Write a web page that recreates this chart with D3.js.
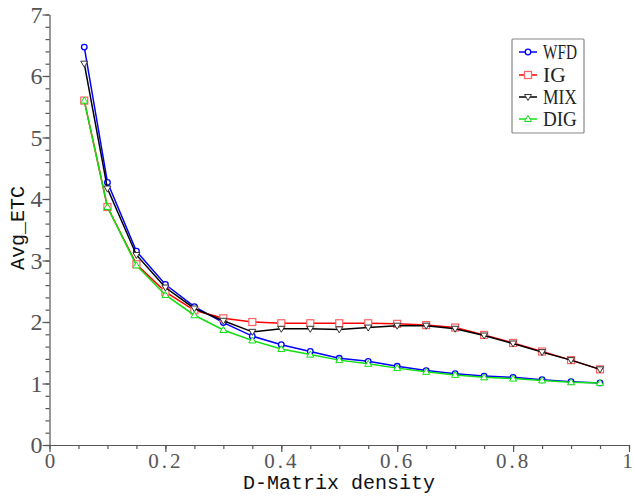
<!DOCTYPE html>
<html>
<head>
<meta charset="utf-8">
<script src="https://cdn.jsdelivr.net/npm/d3@7"></script>
<style>
  body { margin: 0; background: #fff; }
  svg { display: block; }
</style>
</head>
<body>
<svg id="chart" width="634" height="496"></svg>
<script>
// densities on the x axis
const density = [0.06, 0.1, 0.15, 0.2, 0.25, 0.3, 0.35, 0.4, 0.45, 0.5,
                 0.55, 0.6, 0.65, 0.7, 0.75, 0.8, 0.85, 0.9, 0.95];

const wfd = [6.47, 4.27, 3.15, 2.61, 2.25, 1.99, 1.77, 1.63, 1.52, 1.41,
             1.36, 1.28, 1.21, 1.16, 1.12, 1.10, 1.06, 1.03, 1.01];
const ig  = [5.60, 3.87, 2.94, 2.49, 2.19, 2.06, 2.00, 1.98, 1.98, 1.98,
             1.98, 1.97, 1.95, 1.91, 1.79, 1.66, 1.52, 1.38, 1.23];
const mix = [6.20, 4.17, 3.09, 2.56, 2.22, 2.02, 1.84, 1.89, 1.89, 1.88,
             1.91, 1.94, 1.94, 1.89, 1.78, 1.65, 1.51, 1.38, 1.23];
const dig = [5.60, 3.87, 2.92, 2.44, 2.11, 1.87, 1.70, 1.56, 1.47, 1.38,
             1.32, 1.25, 1.19, 1.14, 1.10, 1.08, 1.05, 1.02, 1.01];

const seriesNames = ["WFD", "IG", "MIX", "DIG"];
const xTicks = [0, 0.2, 0.4, 0.6, 0.8, 1];
const yTicks = [0, 1, 2, 3, 4, 5, 6, 7];

const series = [
  { name: "WFD", values: wfd, color: "#0000ff", mark: "#0000ff", shape: "circle" },
  { name: "IG",  values: ig,  color: "#ff0000", mark: "#ff6060", shape: "square" },
  { name: "MIX", values: mix, color: "#000000", mark: "#333333", shape: "down" },
  { name: "DIG", values: dig, color: "#10e010", mark: "#10e010", shape: "up" }
];

const svg = d3.select("#chart");
const x = d3.scaleLinear().domain([0, 1]).range([49.5, 629]);
const y = d3.scaleLinear().domain([0, 7]).range([445, 14.5]);

const axisColor = "#555";

// x axis, minor ticks first
const gx = svg.append("g").attr("transform", `translate(0,${y(0)})`);
gx.call(d3.axisBottom(x).tickValues(d3.range(0, 1.001, 0.05)).tickSize(4).tickFormat(""));
gx.call(g => g.select(".domain").remove());
const gxm = svg.append("g").attr("transform", `translate(0,${y(0)})`);
gxm.call(d3.axisBottom(x).tickValues(xTicks).tickSize(7).tickSizeOuter(0)
  .tickFormat(d => d === 0 || d === 1 ? d3.format("d")(d) : d3.format(".1f")(d)));
gxm.selectAll("text")
  .attr("y", 8)
  .attr("fill", "#555")
  .style("font-family", "Liberation Serif, serif")
  .style("font-size", "21px")
  .style("letter-spacing", d => (d === 0 || d === 1) ? "0px" : "3px");
gxm.selectAll(".tick").filter(d => d === 1).select("text").attr("x", -2);

// y axis
const gy = svg.append("g").attr("transform", `translate(${x(0)},0)`);
gy.call(d3.axisLeft(y).tickValues(d3.range(0, 7.001, 0.2)).tickSize(4).tickFormat(""));
gy.call(g => g.select(".domain").remove());
const gym = svg.append("g").attr("transform", `translate(${x(0)},0)`);
gym.call(d3.axisLeft(y).tickValues(yTicks).tickSize(7).tickSizeOuter(0).tickFormat(d3.format("d")));
gym.selectAll("text")
  .attr("x", -7)
  .attr("fill", "#555")
  .style("font-family", "Liberation Serif, serif")
  .style("font-size", "24px");
svg.selectAll("g line, g path.domain").attr("stroke", axisColor).attr("stroke-width", 1.2);

// titles
svg.append("text")
  .attr("x", 339).attr("y", 489)
  .attr("text-anchor", "middle")
  .attr("fill", "#111")
  .style("font-family", "Liberation Mono, monospace")
  .style("font-size", "20px")
  .text("D-Matrix density");

svg.append("text")
  .attr("transform", "translate(24,228) rotate(-90)")
  .attr("text-anchor", "middle")
  .attr("fill", "#111")
  .style("font-family", "Liberation Mono, monospace")
  .style("font-size", "20px")
  .text("Avg_ETC");

function drawMark(g, shape, cx, cy, color) {
  if (shape === "circle") {
    g.append("circle").attr("cx", cx).attr("cy", cy).attr("r", 2.8)
      .attr("fill", "#fff").attr("stroke", color).attr("stroke-width", 1.3);
  } else if (shape === "square") {
    g.append("rect").attr("x", cx - 3.5).attr("y", cy - 3.5).attr("width", 7).attr("height", 7)
      .attr("fill", "#fff").attr("stroke", color).attr("stroke-width", 1.2);
  } else if (shape === "down") {
    g.append("path").attr("d", `M${cx - 3.5},${cy - 2.5}L${cx + 3.5},${cy - 2.5}L${cx},${cy + 3.5}Z`)
      .attr("fill", "#fff").attr("stroke", color).attr("stroke-width", 1);
  } else {
    g.append("path").attr("d", `M${cx - 3.5},${cy + 2.5}L${cx + 3.5},${cy + 2.5}L${cx},${cy - 3.5}Z`)
      .attr("fill", "#fff").attr("stroke", color).attr("stroke-width", 1);
  }
}

const line = d3.line()
  .x((d, i) => x(density[i]))
  .y(d => y(d));

series.forEach(s => {
  const g = svg.append("g");
  g.append("path")
    .attr("d", line(s.values))
    .attr("fill", "none")
    .attr("stroke", s.color)
    .attr("stroke-width", 1.5);
  s.values.forEach((v, i) => drawMark(g, s.shape, x(density[i]), y(v), s.mark));
});

// legend
const lg = svg.append("g");
lg.append("rect")
  .attr("x", 512).attr("y", 39).attr("width", 72).attr("height", 94)
  .attr("rx", 1)
  .attr("fill", "#fff").attr("stroke", "#888").attr("stroke-width", 1.2);
const legendY = [52, 75, 97, 119];
series.forEach((s, i) => {
  const ly = legendY[i];
  lg.append("line").attr("x1", 519).attr("x2", 537).attr("y1", ly).attr("y2", ly)
    .attr("stroke", s.color).attr("stroke-width", 1.5);
  drawMark(lg, s.shape, 528, ly, s.mark);
  lg.append("text")
    .attr("x", 543).attr("y", ly + 7)
    .attr("textLength", seriesNames[i].length * 11.3)
    .attr("lengthAdjust", "spacingAndGlyphs")
    .attr("fill", "#222")
    .style("font-family", "Liberation Serif, serif")
    .style("font-size", "21px")
    .text(seriesNames[i]);
});
</script>
</body>
</html>
